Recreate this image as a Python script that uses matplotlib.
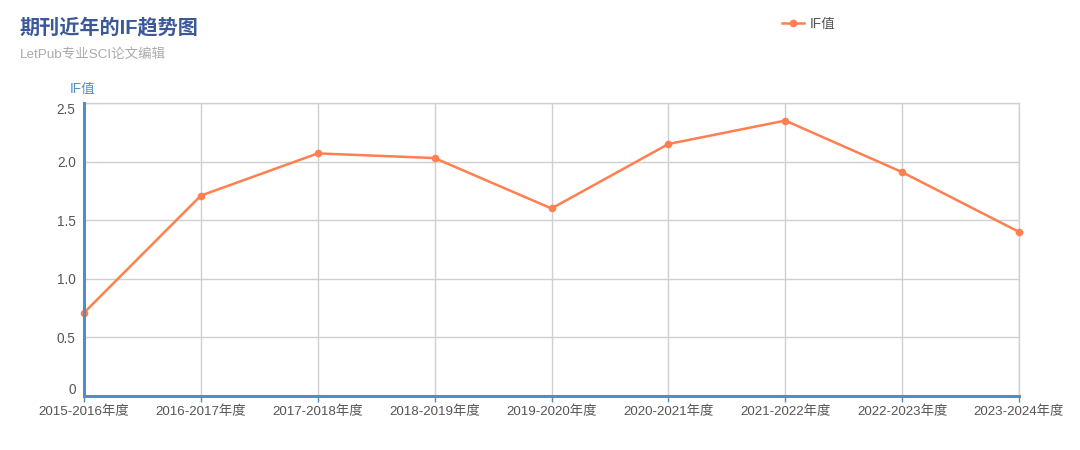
import matplotlib
matplotlib.use('Agg')
import matplotlib.pyplot as plt
import matplotlib.transforms as mtransforms

plt.rcParams['font.family'] = ['Liberation Sans', 'Noto Sans CJK SC', 'DejaVu Sans']

# data
years = ['2015-2016年度', '2016-2017年度', '2017-2018年度', '2018-2019年度', '2019-2020年度',
         '2020-2021年度', '2021-2022年度', '2022-2023年度', '2023-2024年度']
if_values = [0.71, 1.71, 2.07, 2.03, 1.60, 2.15, 2.35, 1.91, 1.40]
y_ticks = [0, 0.5, 1.0, 1.5, 2.0, 2.5]
y_tick_labels = ['0', '0.5', '1.0', '1.5', '2.0', '2.5']

line_color = '#ff7f50'
axis_blue = '#4f8fc8'
grid_grey = '#d0d0d0'
text_grey = '#555555'

fig = plt.figure(figsize=(10.8, 4.5), dpi=100)
ax = fig.add_axes([84 / 1080, 1 - 396 / 450, (1019 - 84) / 1080, (396 - 103) / 450])

x = list(range(len(years)))
line, = ax.plot(x, if_values, color=line_color, linewidth=1.8, marker='o',
                markersize=5.5, markeredgewidth=0, label='IF值', zorder=3, clip_on=False)

ax.set_xlim(0, len(years) - 1)
ax.set_ylim(0, 2.5)
ax.set_xticks(x)
ax.set_xticklabels(years, fontsize=9.6, color=text_grey)
ax.set_yticks(y_ticks)
ax.set_yticklabels(y_tick_labels, fontsize=9.8, color=text_grey)

ax.grid(True, color=grid_grey, linewidth=1)
ax.set_axisbelow(True)
for side in ['top', 'right']:
    ax.spines[side].set_color(grid_grey)
    ax.spines[side].set_linewidth(1)
for side in ['left', 'bottom']:
    ax.spines[side].set_color(axis_blue)
    ax.spines[side].set_linewidth(2.2)
    ax.spines[side].set_zorder(4)

ax.tick_params(axis='y', length=0, pad=6)
ax.tick_params(axis='x', length=4, color=axis_blue, width=1, pad=3)

# echarts nudges the end labels inward
labels = ax.get_yticklabels()
labels[0].set_transform(labels[0].get_transform() +
                        mtransforms.ScaledTranslation(0, 8 / 100, fig.dpi_scale_trans))
labels[-1].set_transform(labels[-1].get_transform() +
                         mtransforms.ScaledTranslation(0, -6 / 100, fig.dpi_scale_trans))

fig.text(20 / 1080, 1 - 27 / 450, '期刊近年的IF趋势图', fontsize=14.5, fontweight='bold',
         color='#3b5998', va='center', ha='left')
fig.text(20 / 1080, 1 - 55 / 450, 'LetPub专业SCI论文编辑', fontsize=9.7, color='#aaaaaa',
         va='center', ha='left')
fig.text(70 / 1080, 1 - 89 / 450, 'IF值', fontsize=9.8, color=axis_blue, va='center', ha='left')

fig.legend(handles=[line], loc='center left', bbox_to_anchor=(777 / 1080, 1 - 24 / 450),
           frameon=False, fontsize=9.8, labelcolor=text_grey, handlelength=1.6,
           handletextpad=0.4, borderaxespad=0)

fig.savefig('out.png', dpi=100, facecolor='white')
